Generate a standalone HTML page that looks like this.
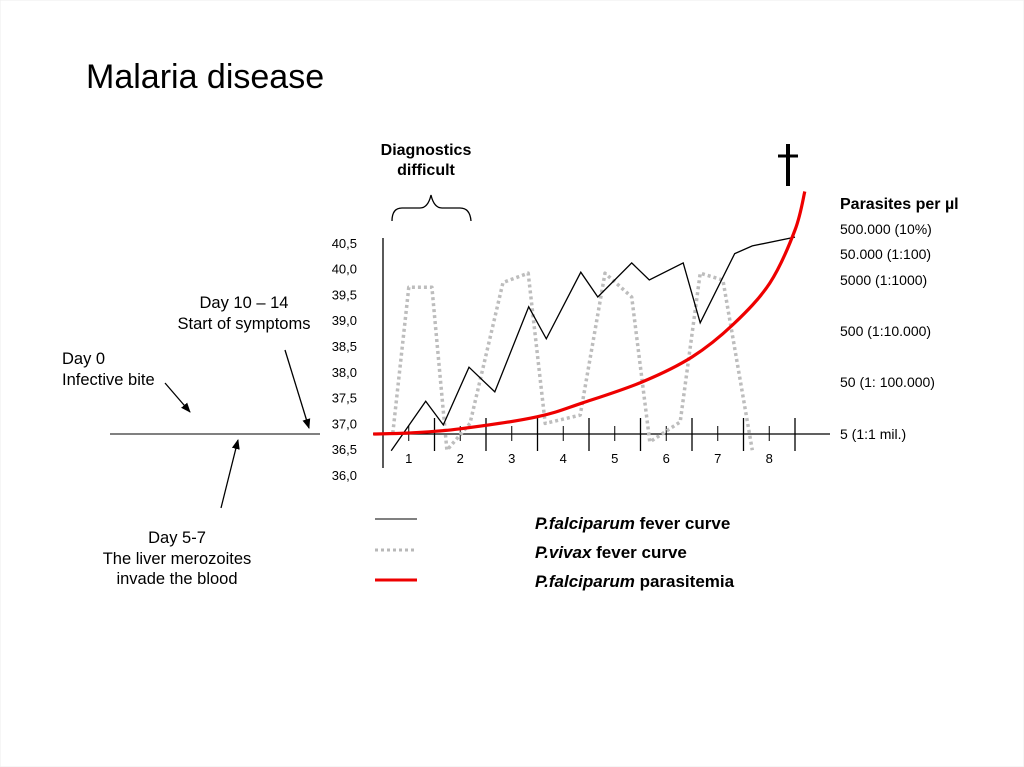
<!DOCTYPE html>
<html><head><meta charset="utf-8"><style>
body{margin:0;background:#fff;}
svg{display:block;font-family:"Liberation Sans",sans-serif;}
</style></head><body>
<svg id="chart" width="1024" height="767" viewBox="0 0 1024 767" xmlns="http://www.w3.org/2000/svg">
<defs>
<marker id="ah" markerWidth="10" markerHeight="10" refX="9" refY="5" orient="auto" markerUnits="userSpaceOnUse"><path d="M0,1 L10,5 L0,9 z" fill="#000"/></marker>
</defs>
<rect x="0" y="0" width="1024" height="767" fill="#fff" stroke="#eee"/>
<text x="86" y="88" font-size="34" fill="#000">Malaria disease</text>
<g>
<text x="426" y="155" font-size="16" font-weight="bold" text-anchor="middle">Diagnostics</text>
<text x="426" y="175" font-size="16" font-weight="bold" text-anchor="middle">difficult</text>
<path d="M392,221 Q392,208 402,208 L420,208 Q428,208 431,195 Q434,208 442,208 L460,208 Q470,208 471,221" fill="none" stroke="#000" stroke-width="1.3"/>
</g>
<g>
<line x1="788" y1="144" x2="788" y2="186" stroke="#000" stroke-width="4"/>
<line x1="778" y1="156" x2="798" y2="156" stroke="#000" stroke-width="3"/>
</g>
<g font-size="16.5">
<line x1="110" y1="434" x2="320" y2="434" stroke="#000" stroke-width="1"/>
<text x="62" y="364">Day 0</text>
<text x="62" y="385">Infective bite</text>
<line x1="165" y1="383" x2="190" y2="412" stroke="#000" stroke-width="1.3" marker-end="url(#ah)"/>
<text x="244" y="308" text-anchor="middle">Day 10 – 14</text>
<text x="244" y="329" text-anchor="middle">Start of symptoms</text>
<line x1="285" y1="350" x2="309" y2="428" stroke="#000" stroke-width="1.3" marker-end="url(#ah)"/>
<line x1="221" y1="508" x2="238" y2="440" stroke="#000" stroke-width="1.3" marker-end="url(#ah)"/>
<text x="177" y="543" text-anchor="middle">Day 5-7</text>
<text x="177" y="564" text-anchor="middle">The liver merozoites</text>
<text x="177" y="584" text-anchor="middle">invade the blood</text>
</g>
<g id="axes"></g>
<g id="series"></g>
<g>
<text x="840" y="209" font-size="16" font-weight="bold">Parasites per µl</text>
<text x="840" y="234" font-size="14">500.000 (10%)</text>
<text x="840" y="259" font-size="14">50.000 (1:100)</text>
<text x="840" y="285" font-size="14">5000 (1:1000)</text>
<text x="840" y="336" font-size="14">500 (1:10.000)</text>
<text x="840" y="387" font-size="14">50 (1: 100.000)</text>
<text x="840" y="439" font-size="14">5   (1:1 mil.)</text>
</g>
<g>
<line x1="375" y1="519" x2="417" y2="519" stroke="#000" stroke-width="1"/>
<line x1="375" y1="550" x2="417" y2="550" stroke="#b8b8b8" stroke-width="3" stroke-dasharray="3,3"/>
<line x1="375" y1="580" x2="417" y2="580" stroke="#e00" stroke-width="3"/>
<text x="535" y="529" font-size="17" font-weight="bold"><tspan font-style="italic">P.falciparum</tspan> fever curve</text>
<text x="535" y="558" font-size="17" font-weight="bold"><tspan font-style="italic">P.vivax</tspan> fever curve</text>
<text x="535" y="587" font-size="17" font-weight="bold"><tspan font-style="italic">P.falciparum</tspan> parasitemia</text>
</g>
</svg>
<script>
const dayLabels = ["1","2","3","4","5","6","7","8"];
const tempTicks = ["40,5","40,0","39,5","39,0","38,5","38,0","37,5","37,0","36,5","36,0"];
const falcDays = [0.16,0.83,1.17,1.67,2.17,2.83,3.17,3.84,4.17,4.83,5.17,5.83,6.16,6.83,7.17,8.0];
const falcTemps = [36.47,37.43,36.97,38.09,37.61,39.26,38.64,39.93,39.45,40.11,39.78,40.11,38.95,40.29,40.44,40.61];
const vivaxDays = [0.19,0.5,0.95,1.24,1.69,2.33,2.82,3.15,3.83,4.31,4.83,5.18,5.77,6.16,6.6,7.17];
const vivaxTemps = [36.81,39.64,39.64,36.48,37.0,39.73,39.91,37.0,37.16,39.91,39.45,36.64,37.03,39.91,39.78,36.48];
const paraDays = [-0.19,0.5,1.5,2.99,3.88,5.03,6.0,6.8,7.51,8.0,8.19];
const paraLog10 = [0.7,0.72,0.8,1.03,1.30,1.7,2.19,2.83,3.64,5.66,7.2];

const NS="http://www.w3.org/2000/svg";
function xDay(d){return 383+51.5*d;}
function yTemp(t){return 475-(t-36)*51.6;}
const logLv=[0.7,1.7,2.7,3.7,4.7,5.7], logPx=[434,382,331,280,254,229];
function yPara(l){
  if(l<=logLv[0]) return logPx[0]-(l-logLv[0])*52;
  for(let i=1;i<logLv.length;i++){ if(l<=logLv[i]){const f=(l-logLv[i-1])/(logLv[i]-logLv[i-1]);return logPx[i-1]+f*(logPx[i]-logPx[i-1]);} }
  return logPx[5]-(l-5.7)*25;
}
function mk(tag,attrs,parent){const e=document.createElementNS(NS,tag);for(const k in attrs)e.setAttribute(k,attrs[k]);parent.appendChild(e);return e;}
const axes=document.getElementById('axes'), series=document.getElementById('series');

const yAxis=mk('line',{x1:383,y1:238,x2:383,y2:468,stroke:'#000','stroke-width':1.3},axes);


const xAxis=mk('line',{x1:373,y1:434,x2:830,y2:434,stroke:'#000','stroke-width':1.3},axes);


tempTicks.forEach((lab,i)=>{
  const t=parseFloat(lab.replace(',','.'));
  const tx=mk('text',{x:357,y:yTemp(t)+5,'font-size':13,'text-anchor':'end'},axes);
  tx.textContent=lab;
  
  
});
dayLabels.forEach((lab,i)=>{
  const d=i+1;
  const maj=mk('line',{x1:xDay(d),y1:418,x2:xDay(d),y2:451,stroke:'#000','stroke-width':1.3},axes);
  
  
  const mn=mk('line',{x1:xDay(d-0.5),y1:426,x2:xDay(d-0.5),y2:441,stroke:'#000','stroke-width':1},axes);
  
  
  const tx=mk('text',{x:xDay(d-0.5),y:463,'font-size':13,'text-anchor':'middle'},axes);
  tx.textContent=lab;
  
  
});
const vp=vivaxDays.map((d,i)=>xDay(d).toFixed(1)+','+yTemp(vivaxTemps[i]).toFixed(1)).join(' ');
const vl=mk('polyline',{points:vp,fill:'none',stroke:'#bdbdbd','stroke-width':3.5,'stroke-dasharray':'3,3','stroke-linejoin':'round'},series);


const fp=falcDays.map((d,i)=>xDay(d).toFixed(1)+','+yTemp(falcTemps[i]).toFixed(1)).join(' ');
const fl=mk('polyline',{points:fp,fill:'none',stroke:'#000','stroke-width':1.3},series);


const P=paraDays.map((d,i)=>[xDay(d),yPara(paraLog10[i])]);
let dstr='M'+P[0][0].toFixed(1)+','+P[0][1].toFixed(1);
for(let i=0;i<P.length-1;i++){
  const p0=P[Math.max(0,i-1)],p1=P[i],p2=P[i+1],p3=P[Math.min(P.length-1,i+2)];
  const c1=[p1[0]+(p2[0]-p0[0])/6,p1[1]+(p2[1]-p0[1])/6];
  const c2=[p2[0]-(p3[0]-p1[0])/6,p2[1]-(p3[1]-p1[1])/6];
  dstr+=' C'+c1.map(v=>v.toFixed(1)).join(',')+' '+c2.map(v=>v.toFixed(1)).join(',')+' '+p2.map(v=>v.toFixed(1)).join(',');
}
const rl=mk('path',{d:dstr,fill:'none',stroke:'#e00','stroke-width':3.2},series);


</script>
</body></html>
